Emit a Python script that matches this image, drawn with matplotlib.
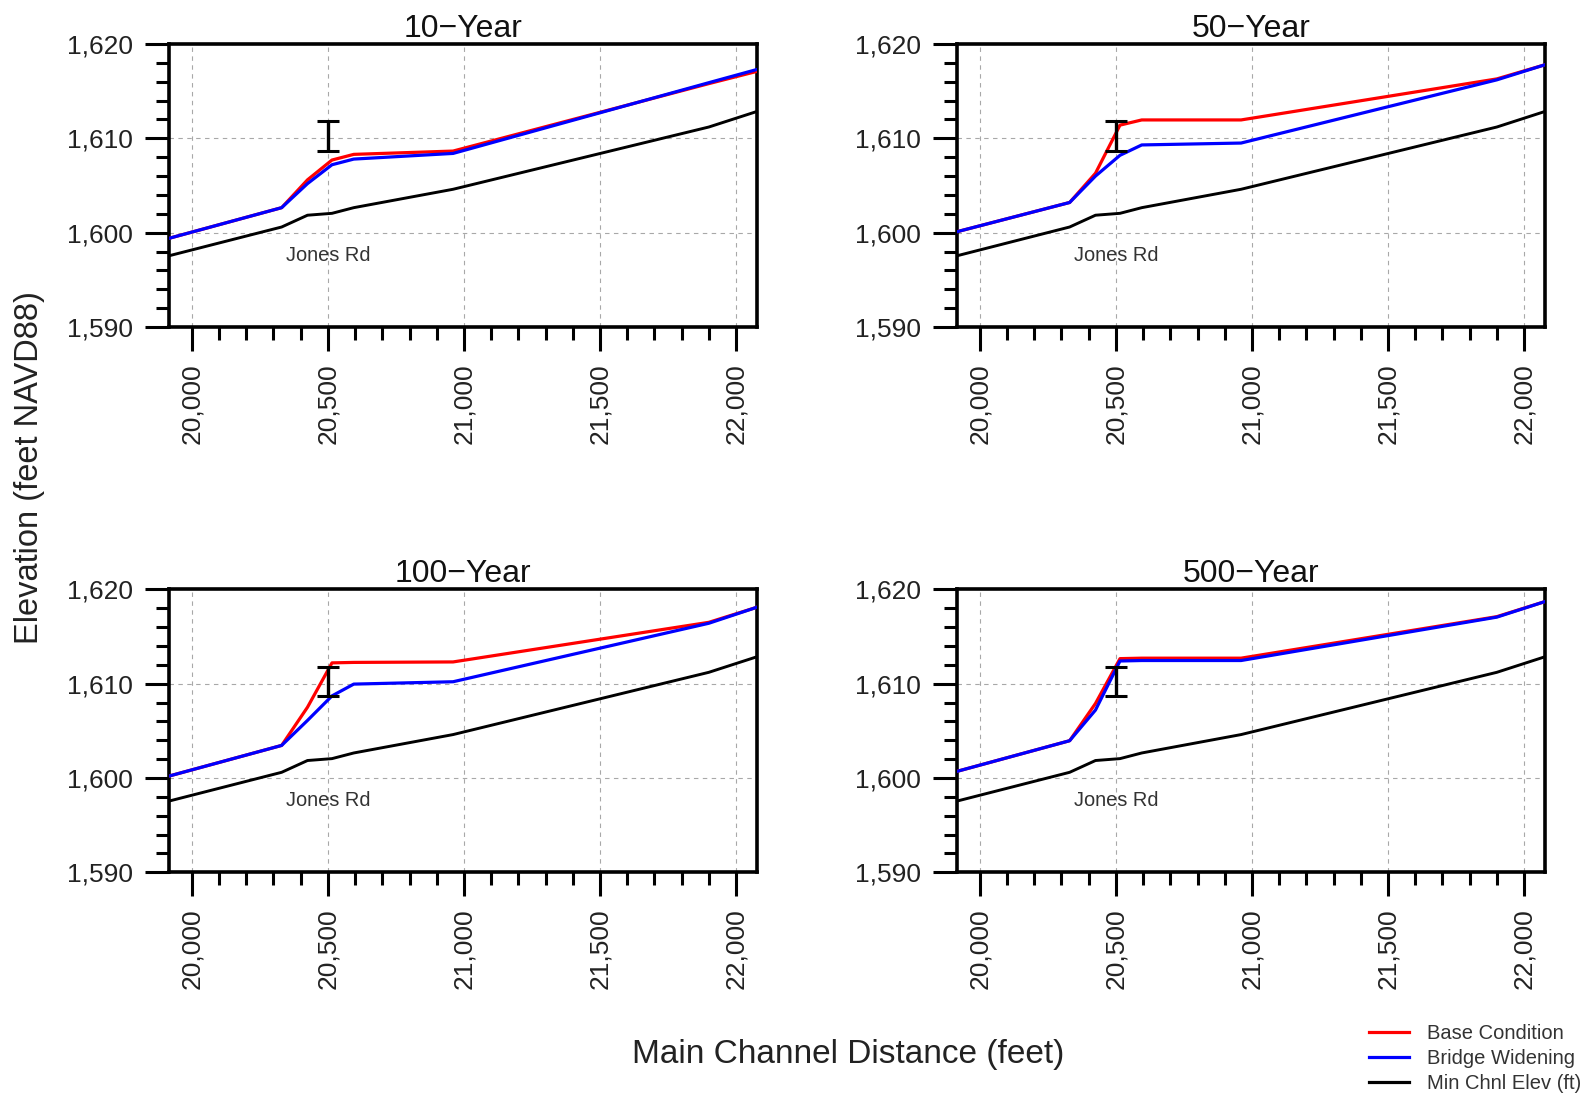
import matplotlib
matplotlib.use("Agg")
import matplotlib.pyplot as plt
from matplotlib.ticker import MultipleLocator
from matplotlib.lines import Line2D

plt.rcParams["font.family"] = ["Liberation Sans", "DejaVu Sans"]

# Cross-section stations along the main channel (feet)
stations = [19916, 20330, 20425, 20515, 20595, 20960, 21900, 22077]

# Minimum channel elevation (same for every event)
min_chnl = [1597.55, 1600.6, 1601.85, 1602.05, 1602.65, 1604.6, 1611.2, 1612.85]

# Water-surface elevations for each return period
events = ["10\u2212Year", "50\u2212Year", "100\u2212Year", "500\u2212Year"]
base_condition = {
    "10\u2212Year":  [1599.4, 1602.65, 1605.6, 1607.7, 1608.3, 1608.65, 1615.8, 1617.1],
    "50\u2212Year":  [1600.1, 1603.2, 1606.3, 1611.4, 1611.95, 1611.95, 1616.3, 1617.8],
    "100\u2212Year": [1600.2, 1603.45, 1607.5, 1612.2, 1612.25, 1612.3, 1616.5, 1618.1],
    "500\u2212Year": [1600.7, 1603.95, 1607.9, 1612.65, 1612.7, 1612.7, 1617.1, 1618.7],
}
bridge_widening = {
    "10\u2212Year":  [1599.4, 1602.65, 1605.2, 1607.2, 1607.8, 1608.4, 1615.9, 1617.3],
    "50\u2212Year":  [1600.1, 1603.2, 1606.0, 1608.2, 1609.3, 1609.5, 1616.2, 1617.8],
    "100\u2212Year": [1600.2, 1603.45, 1606.1, 1608.7, 1609.95, 1610.2, 1616.4, 1618.1],
    "500\u2212Year": [1600.7, 1603.95, 1607.2, 1612.4, 1612.45, 1612.45, 1617.05, 1618.7],
}

# Jones Rd bridge: location and deck elevation range
bridge_station = 20500
bridge_low = 1608.7
bridge_high = 1611.8
bridge_label = "Jones Rd"
bridge_label_elev = 1597.6

x_ticks = [20000, 20500, 21000, 21500, 22000]
x_tick_labels = ["20,000", "20,500", "21,000", "21,500", "22,000"]
y_ticks = [1590, 1600, 1610, 1620]
y_tick_labels = ["1,590", "1,600", "1,610", "1,620"]

W, H = 1596, 1098
fig = plt.figure(figsize=(W / 100, H / 100), dpi=100)

left_cols = [169 / W, 957 / W]
ax_w = 588 / W
ax_h = 283 / H
bottoms = [(H - 327) / H, (H - 872.3) / H]

axes = []
for i, ev in enumerate(events):
    r, c = divmod(i, 2)
    ax = fig.add_axes([left_cols[c], bottoms[r], ax_w, ax_h])
    axes.append(ax)

    ax.plot(stations, base_condition[ev], color="#ff0000", lw=2.3,
            label="Base Condition", zorder=3)
    ax.plot(stations, bridge_widening[ev], color="#0000ff", lw=2.3,
            label="Bridge Widening", zorder=4)
    ax.plot(stations, min_chnl, color="black", lw=2.1,
            label="Min Chnl Elev (ft)", zorder=3)

    mid = (bridge_low + bridge_high) / 2
    ax.errorbar([bridge_station], [mid], yerr=[(bridge_high - bridge_low) / 2],
                fmt="none", ecolor="black", elinewidth=2.4, capsize=8,
                capthick=2.2, zorder=5)
    ax.text(bridge_station, bridge_label_elev, bridge_label, ha="center",
            va="center", fontsize=14.4, color="#333333")

    ax.set_xlim(19916, 22077)
    ax.set_ylim(1590, 1620)
    ax.set_xticks(x_ticks)
    ax.set_xticklabels(x_tick_labels, rotation=90)
    ax.set_yticks(y_ticks)
    ax.set_yticklabels(y_tick_labels)
    ax.xaxis.set_minor_locator(MultipleLocator(100))
    ax.yaxis.set_minor_locator(MultipleLocator(2))
    ax.tick_params(which="major", length=17, width=2.2, labelsize=19,
                   colors="black", labelcolor="#222222", pad=9)
    ax.tick_params(which="minor", length=9.5, width=2.2, colors="black")
    ax.grid(True, which="major", color="#a8a8a8", lw=0.8,
            linestyle=(0, (4, 4)))
    for s in ax.spines.values():
        s.set_linewidth(2.6)
    ax.set_title(ev, fontsize=23, pad=5, color="#111111")

fig.text(30 / W, 1 - 468 / H, "Elevation (feet NAVD88)", rotation=90,
         ha="center", va="center", fontsize=23.5, color="#222222")
fig.text(848 / W, 1 - 1054.5 / H, "Main Channel Distance (feet)",
         ha="center", va="center", fontsize=24, color="#222222")

handles = [
    Line2D([], [], color="#ff0000", lw=2.3),
    Line2D([], [], color="#0000ff", lw=2.3),
    Line2D([], [], color="black", lw=2.3),
]
labels = ["Base Condition", "Bridge Widening", "Min Chnl Elev (ft)"]
leg = fig.legend(handles, labels, loc="upper left",
                 bbox_to_anchor=(1369 / W, 1 - 1024 / H), frameon=False,
                 fontsize=14.5, handlelength=2.0, handletextpad=0.9,
                 labelspacing=0.3, borderpad=0, borderaxespad=0)
for t in leg.get_texts():
    t.set_color("#333333")

fig.savefig("out.png", dpi=100)
